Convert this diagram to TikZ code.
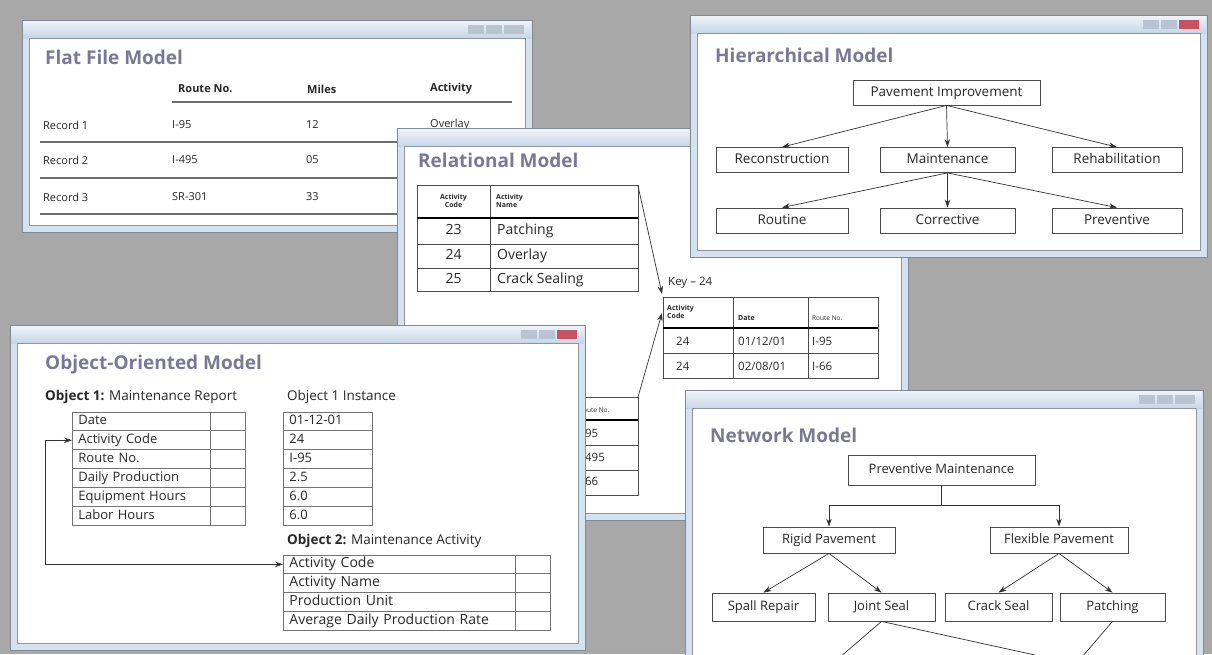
\documentclass[tikz,border=0pt]{standalone}
\usepackage{fontspec}
\setmainfont{Open Sans}
\newfontfamily\ttlfont{Open Sans}
\usetikzlibrary{arrows.meta}
\usetikzlibrary{positioning}

\definecolor{deskgray}{RGB}{168,168,168}
\definecolor{winedge}{RGB}{128,138,150}
\definecolor{winframe}{RGB}{214,226,238}
\definecolor{barhi}{RGB}{238,243,249}
\definecolor{barlo}{RGB}{198,214,231}
\definecolor{inedge}{RGB}{140,150,160}
\definecolor{ttlcol}{RGB}{122,120,150}
\definecolor{inkcol}{RGB}{40,40,40}
\definecolor{rulecol}{RGB}{110,110,110}
\definecolor{iconcol}{RGB}{184,196,210}
\definecolor{closered}{RGB}{196,84,96}

\newcommand{\appwin}[5]{%
  \fill[winframe, draw=winedge, line width=1pt] (#1,#2) rectangle (#3,#4);
  \shade[top color=barhi, bottom color=barlo] (#1+1,#2+1) rectangle (#3-1,#2+18);
  \fill[white, draw=inedge, line width=1pt] (#1+7,#2+18) rectangle (#3-7,#4-7);
  \fill[iconcol] (#3-64,#2+5) rectangle (#3-48,#2+14);
  \fill[iconcol] (#3-46,#2+5) rectangle (#3-30,#2+14);
  \fill[#5] (#3-28,#2+5) rectangle (#3-8,#2+14);
}

\tikzset{
  ttl/.style={anchor=west, text=ttlcol, inner sep=0pt, font=\ttlfont\bfseries\fontsize{19}{20}\selectfont},
  lbl/.style={anchor=west, text=inkcol, inner sep=0pt, font=\fontsize{11}{12}\selectfont},
  hdr/.style={lbl, font=\bfseries\fontsize{11}{12}\selectfont},
  keytxt/.style={lbl, font=\fontsize{11.5}{12}\selectfont},
  objlbl/.style={lbl, font=\fontsize{13.5}{14}\selectfont},
  rtxt/.style={text=inkcol, inner sep=0pt, text height=10pt, text depth=3pt, font=\fontsize{14}{15}\selectfont},
  small/.style={text=inkcol, inner sep=0pt, font=\bfseries\fontsize{7}{7.5}\selectfont, align=center},
  rule/.style={rulecol, line width=1.3pt},
  grid/.style={black!70, line width=0.8pt},
  thickrule/.style={black, line width=2.2pt},
  tbox/.style={draw=black!70, line width=0.8pt, minimum height=25pt, inner sep=0pt, text height=10pt, text depth=3pt, text=inkcol, font=\fontsize{13.5}{15}\selectfont},
  netbox/.style={tbox, font=\fontsize{13}{14}\selectfont},
  cell/.style={draw=black!55, line width=0.9pt, anchor=west, minimum height=18.8pt, inner xsep=6pt, inner ysep=0pt, text height=10pt, text depth=3pt, align=left, text=inkcol, font=\fontsize{13}{14}\selectfont},
  arr/.style={-{Stealth[length=8pt,width=5.5pt]}, black!80, line width=0.7pt}
}

\begin{document}
\begin{tikzpicture}[x=1pt,y=-1pt]
\useasboundingbox (0,0) rectangle (1212,654);
\clip (0,0) rectangle (1212,654);
\fill[deskgray] (0,0) rectangle (1212,654);

\appwin{22}{20}{532}{232}{iconcol}
\node[ttl] (fftitle) at (45,57) {Flat File Model};
\node[hdr] (ffh1) at (178,89) {Route No.};
\node[hdr] (ffh2) at (307,89) {Miles};
\node[hdr] (ffh3) at (430,89) {Activity};
\draw[rule] (172,102) -- (512,102);
\foreach \r/\rt/\mi/\y in {1/I-95/12/125, 2/I-495/05/160, 3/SR-301/33/197}{
  \node[lbl] (ffrec\r) at (43,\y) {Record \r};
  \node[lbl] (ffrt\r) at (172,\y) {\rt};
  \node[lbl] (ffmi\r) at (306,\y) {\mi};
}
\node[lbl] (ffact1) at (430,125) {Overlay};
\foreach \y in {142,178,214}
  \draw[rule] (40,\y) -- (512,\y);

\appwin{397}{128}{908}{520}{iconcol}
\node[ttl] (reltitle) at (418,160) {Relational Model};
\draw[grid] (417,185) rectangle (638,291);
\draw[grid] (490,185) -- (490,291);
\draw[grid] (417,244) -- (638,244) (417,268) -- (638,268);
\draw[thickrule] (417,218) -- (638,218);
\node[small] (acthd) at (453.5,201) {Activity\\Code};
\node[small, anchor=west, align=left] (namehd) at (496,201) {Activity\\Name};
\foreach \c/\nm/\y [count=\i] in {23/Patching/231, 24/Overlay/256, 25/Crack Sealing/280}{
  \node[rtxt] (rc\i) at (453.5,\y) {\c};
  \node[rtxt, anchor=west] (rn\i) at (497,\y) {\nm};
}
\node[keytxt] (keylbl) at (668,283) {Key -- 24};
\draw[grid] (663,297) rectangle (878,378);
\draw[grid] (733,297) -- (733,378) (808,297) -- (808,378);
\draw[grid] (663,353) -- (878,353);
\draw[thickrule] (663,328) -- (878,328);
\node[small, anchor=west, align=left] (kh1) at (667,312) {Activity\\Code};
\node[small, anchor=west] (kh2) at (738,318) {Date};
\node[small, anchor=west, font=\fontsize{6.5}{7}\selectfont] (kh3) at (812,318) {Route No.};
\node[keytxt] (kc1) at (676,341) {24};
\node[keytxt] (kd1) at (738,341) {01/12/01};
\node[keytxt] (kr1) at (812,341) {I-95};
\node[keytxt] (kc2) at (676,366) {24};
\node[keytxt] (kd2) at (738,366) {02/08/01};
\node[keytxt] (kr2) at (812,366) {I-66};
\draw[grid] (430,397) rectangle (638,495);
\draw[grid] (574,397) -- (574,495);
\draw[grid] (430,445) -- (638,445) (430,470) -- (638,470);
\draw[thickrule] (430,420) -- (638,420);
\node[small, anchor=west, font=\fontsize{6.5}{7}\selectfont] (bh3) at (579,410) {Route No.};
\node[keytxt] (br1) at (578,433) {I-95};
\node[keytxt] (br2) at (578,457) {I-495};
\node[keytxt] (br3) at (578,481) {I-66};
\coordinate (reltop) at (638,186);
\coordinate (relbot) at (638,397);
\coordinate (keyin) at (662,294);
\coordinate (keyup) at (662,313);
\draw[arr] (reltop) -- (keyin);
\draw[arr] (relbot) -- (keyup);

\appwin{690}{15}{1207}{257}{closered}
\node[ttl] (hiertitle) at (715,55) {Hierarchical Model};
\node[tbox, minimum width=187pt] (pavimp) at (946.5,92.5) {Pavement Improvement};
\node[tbox, minimum width=132pt] (recon) at (782,160) {Reconstruction};
\node[tbox, minimum width=135pt] (maint) at (947.5,160) {Maintenance};
\node[tbox, minimum width=130pt] (rehab) at (1117,160) {Rehabilitation};
\node[tbox, minimum width=132pt] (routine) at (782,220.5) {Routine};
\node[tbox, minimum width=135pt] (correct) at (947.5,220.5) {Corrective};
\node[tbox, minimum width=130pt] (prevent) at (1117,220.5) {Preventive};
\foreach \t in {recon,maint,rehab}
  \draw[arr] (pavimp.south) -- (\t.north);
\foreach \t in {routine,correct,prevent}
  \draw[arr] (maint.south) -- (\t.north);

\appwin{10}{325}{585}{650}{closered}
\node[ttl] (ootitle) at (45,365) {Object-Oriented Model};
\node[objlbl] (obj1lbl) at (45,397) {\textbf{Object 1:} Maintenance Report};
\node[objlbl] (instlbl) at (287,397) {Object 1 Instance};
\foreach \fld/\val [count=\i] in {Date/01-12-01, Activity Code/24, Route No./I-95, Daily Production/2.5, Equipment Hours/6.0, Labor Hours/6.0}{
  \node[cell, text width=126pt] (ofld\i) at (72,{412+18.83*(\i-0.5)}) {\fld};
  \node[cell, text width=23pt] (oemp\i) at (210,{412+18.83*(\i-0.5)}) {};
  \node[cell, text width=77pt] (oinst\i) at (283,{412+18.83*(\i-0.5)}) {\val};
}
\node[objlbl] (obj2lbl) at (287,541) {\textbf{Object 2:} Maintenance Activity};
\foreach \fld [count=\i] in {Activity Code, Activity Name, Production Unit, Average Daily Production Rate}{
  \node[cell, text width=220pt, font=\fontsize{14}{15}\selectfont] (oname\i) at (283,{555+18.75*(\i-0.5)}) {\fld};
  \node[cell, text width=23pt] (oblank\i) at (515,{555+18.75*(\i-0.5)}) {};
}
\draw[arr, {Stealth[length=8pt,width=5.5pt]}-{Stealth[length=8pt,width=5.5pt]}] (ofld2.west) -- ++(-27,0) |- (oname1.west);

\appwin{685}{390}{1203}{670}{iconcol}
\node[ttl] (nettitle) at (710,435) {Network Model};
\node[netbox, minimum width=187pt, minimum height=30pt] (prevmaint) at (941.5,470) {Preventive Maintenance};
\node[netbox, minimum width=132pt, minimum height=26pt] (rigid) at (829,540) {Rigid Pavement};
\node[netbox, minimum width=138pt, minimum height=26pt] (flex) at (1059,540) {Flexible Pavement};
\node[netbox, minimum width=103pt, minimum height=28pt] (spall) at (763.5,607) {Spall Repair};
\node[netbox, minimum width=107pt, minimum height=28pt] (joint) at (881.5,607) {Joint Seal};
\node[netbox, minimum width=107pt, minimum height=28pt] (crack) at (998.5,607) {Crack Seal};
\node[netbox, minimum width=105pt, minimum height=28pt] (patch) at (1112.5,607) {Patching};
\draw[black!80, line width=0.7pt] (prevmaint.south) -- ++(0,20) coordinate (split);
\draw[arr] (split) -| (rigid.north);
\draw[arr] (split) -| (flex.north);
\draw[arr] (rigid.south) -- (spall.north);
\draw[arr] (rigid.south) -- (joint.north);
\draw[arr] (flex.south) -- (crack.north);
\draw[arr] (flex.south) -- (patch.north);
\coordinate (lowA) at (832,664);
\coordinate (lowB) at (1076,664);
\draw[arr] (joint.south) -- (lowA);
\draw[arr] (joint.south) -- (lowB);
\draw[arr] (patch.south) -- (lowB);
\end{tikzpicture}
\end{document}
